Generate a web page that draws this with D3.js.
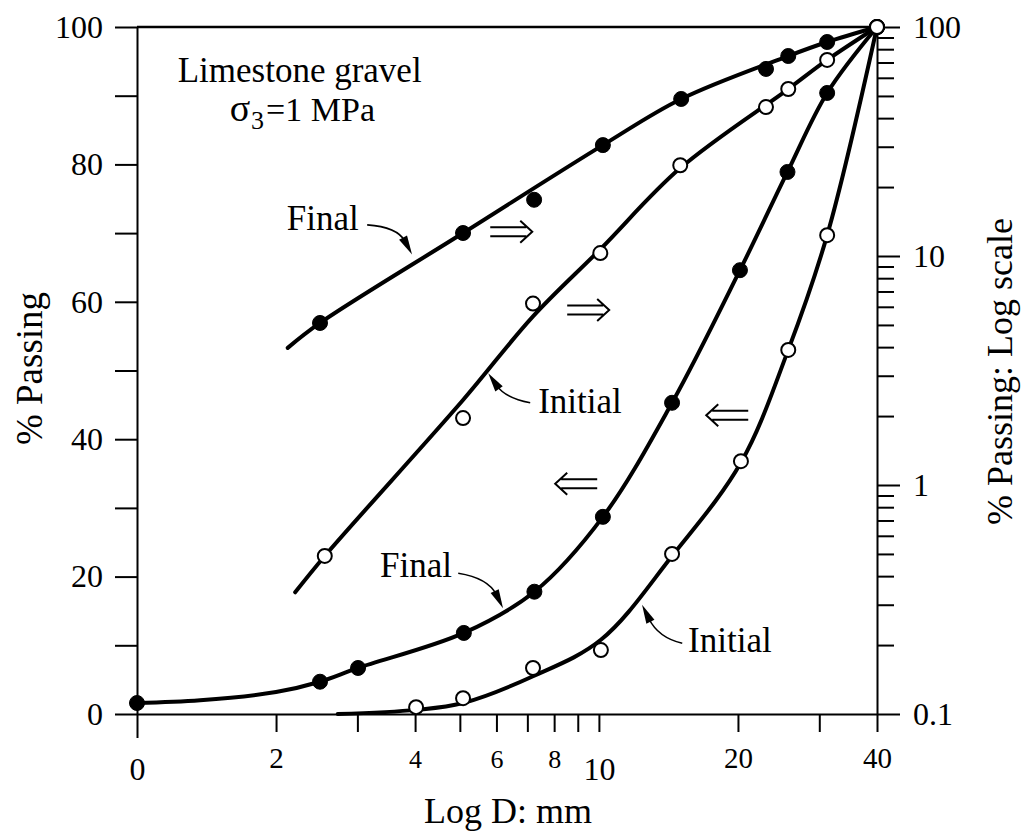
<!DOCTYPE html>
<html lang="en">
<head>
<meta charset="UTF-8">
<title>Limestone gravel - grading before and after shearing</title>
<script src="https://d3js.org/d3.v7.min.js"></script>
<style>
  body { margin: 0; background: #fff; }
  text { font-family: "Liberation Serif", "Times New Roman", serif; fill: #000; }
  .curve { fill: none; stroke: #000; stroke-width: 4; stroke-linecap: round; }
  .frame { stroke: #000; stroke-width: 2.5; fill: none; }
  .axis path, .axis line { stroke: #000; stroke-width: 2; }
  .leader { fill: none; stroke: #000; stroke-width: 1.6; }
  .dbl { fill: none; stroke: #000; stroke-width: 2; }
</style>
</head>
<body>
<div id="chart"></div>
<script>
// Grain size D (mm) and % passing.
// Upper pair is read against the right (log) axis, lower pair against the left (linear) axis.

// Initial grading, log scale (open circles)
const initLogD     = [2.55, 5.08, 7.2, 10.07, 15, 23, 25.7, 31.2, 40];
const initLogP     = [0.49, 1.96, 6.2, 10.3, 24.9, 44.7, 53.6, 71.8, 100];
const initLogLineD = [2.2, 2.55, 5.08, 7.2, 10.07, 15, 25.7, 31.2, 40];
const initLogLineP = [0.34, 0.49, 2.35, 5.45, 10.7, 24.2, 53.6, 71.8, 100];

// Final grading, log scale (filled circles)
const finLogD     = [2.49, 5.08, 7.24, 10.2, 15.07, 23, 25.7, 31.2, 40];
const finLogP     = [5.1, 12.6, 17.6, 30.5, 48.5, 65.6, 74.7, 86, 100];
const finLogLineD = [2.12, 2.49, 5.08, 10.2, 15.07, 25.7, 31.2, 40];
const finLogLineP = [3.97, 5.1, 12.6, 30.5, 48.5, 74.7, 86, 100];

// Final grading, linear scale (filled circles)
const finLinD     = [1, 2.49, 3.01, 5.1, 7.25, 10.2, 14.4, 20.2, 25.6, 31.2, 40];
const finLinP     = [1.6, 4.7, 6.7, 11.8, 17.8, 28.7, 45.3, 64.6, 78.9, 90.4, 100];
const finLinLineD = [1, 1.37, 2, 2.49, 3.01, 5.1, 7.25, 10.2, 14.4, 20.2, 25.6, 31.2, 40];
const finLinLineP = [1.6, 2.0, 3.2, 4.7, 6.7, 11.8, 17.8, 28.7, 45.3, 64.6, 78.9, 90.4, 100];

// Initial grading, linear scale (open circles)
const initLinD     = [4.02, 5.08, 7.2, 10.1, 14.4, 20.3, 25.7, 31.2, 40];
const initLinP     = [1.0, 2.3, 6.7, 9.3, 23.3, 36.8, 53, 69.7, 100];
const initLinLineD = [2.72, 4.02, 5.08, 7.2, 10.1, 14.4, 20.3, 25.7, 31.2, 40];
const initLinLineP = [0, 0.6, 1.6, 5.5, 10.8, 23.0, 36.6, 53, 69.7, 100];

// axis ticks
const xTickValues = [1, 2, 3, 4, 5, 6, 7, 8, 9, 10, 20, 30, 40];
const xTickLabels = ["0", "2", "", "4", "", "6", "", "8", "", "10", "20", "", "40"];
const leftTicks = [0, 10, 20, 30, 40, 50, 60, 70, 80, 90, 100];
const leftLabels = ["0", "", "20", "", "40", "", "60", "", "80", "", "100"];
const rightDecades = [0.1, 1, 10, 100];
const rightLabels = ["0.1", "1", "10", "100"];

const W = 1026, H = 836;
const plot = { left: 137, right: 877, top: 27, bottom: 714 };

const svg = d3.select("#chart").append("svg")
    .attr("width", W).attr("height", H);

const x = d3.scaleLog().domain([1, 40]).range([plot.left, plot.right]);
const yL = d3.scaleLinear().domain([0, 100]).range([plot.bottom, plot.top]);
const yR = d3.scaleLog().domain([0.1, 100]).range([plot.bottom, plot.top]);

// ---- axes ----
const leftAxis = svg.append("g").attr("class", "axis")
    .attr("transform", `translate(${plot.left},0)`)
    .call(d3.axisLeft(yL).tickValues(leftTicks).tickSize(22).tickSizeOuter(0).tickPadding(12)
        .tickFormat((d, i) => leftLabels[i]));
leftAxis.select(".domain").attr("stroke-width", 2.5);
leftAxis.selectAll("text").style("font-size", "32px").attr("font-family", null);

// right log axis, minor ticks 2..9 per decade
const rightTicks = [];
rightDecades.slice(0, 3).forEach(dec => {
    for (let k = 1; k < 10; k++) rightTicks.push(+(dec * k).toPrecision(3));
});
rightTicks.push(100);
const rightAxis = svg.append("g").attr("class", "axis")
    .attr("transform", `translate(${plot.right},0)`)
    .call(d3.axisRight(yR).tickValues(rightTicks).tickSize(17).tickSizeOuter(0).tickPadding(19)
        .tickFormat(d => {
            const i = rightDecades.indexOf(d);
            return i >= 0 ? rightLabels[i] : "";
        }));
rightAxis.select(".domain").attr("stroke-width", 2.5);
rightAxis.selectAll(".tick").filter(d => rightDecades.includes(d))
    .select("line").attr("x2", 23);
rightAxis.selectAll("text").style("font-size", "32px").attr("font-family", null);

const bottomAxis = svg.append("g").attr("class", "axis")
    .attr("transform", `translate(0,${plot.bottom})`)
    .call(d3.axisBottom(x).tickValues(xTickValues).tickSize(18).tickSizeOuter(0)
        .tickFormat((d, i) => xTickLabels[i]));
bottomAxis.select(".domain").attr("stroke-width", 2.5);
bottomAxis.selectAll(".tick").filter(d => d === 1).select("line").attr("y2", 24);
bottomAxis.selectAll("text").attr("font-family", null).attr("dy", null)
    .each(function() {
        const t = d3.select(this), s = t.text();
        if (s === "0" || s === "10") t.attr("y", 66).style("font-size", "32px");
        else if (s === "4" || s === "6" || s === "8") t.attr("y", 54).style("font-size", "26px");
        else t.attr("y", 54).style("font-size", "29px");
    });

// top border
svg.append("line").attr("class", "frame")
    .attr("x1", plot.left).attr("x2", plot.right)
    .attr("y1", plot.top).attr("y2", plot.top);

// axis titles
svg.append("text")
    .attr("transform", `translate(42,${(plot.top + plot.bottom) / 2 - 2}) rotate(-90)`)
    .attr("text-anchor", "middle").style("font-size", "37px")
    .text("% Passing");
svg.append("text")
    .attr("x", (plot.left + plot.right) / 2 + 1).attr("y", 823)
    .attr("text-anchor", "middle").style("font-size", "36px")
    .text("Log D: mm");
svg.append("text")
    .attr("transform", `translate(1012,${(plot.top + plot.bottom) / 2 + 1}) rotate(-90)`)
    .attr("text-anchor", "middle").style("font-size", "36px")
    .text("% Passing: Log scale");

// ---- curves ----
const zip = (ds, ps) => ds.map((d, i) => ({ d: d, p: ps[i] }));
const smooth = d3.curveCatmullRom.alpha(0.5);
const lineLin = d3.line().x(v => x(v.d)).y(v => yL(v.p)).curve(smooth);
const lineLog = d3.line().x(v => x(v.d)).y(v => yR(v.p)).curve(smooth);

const series = [
    { line: zip(initLogLineD, initLogLineP), pts: zip(initLogD, initLogP), gen: lineLog, y: yR, filled: false },
    { line: zip(finLogLineD, finLogLineP), pts: zip(finLogD, finLogP), gen: lineLog, y: yR, filled: true },
    { line: zip(finLinLineD, finLinLineP), pts: zip(finLinD, finLinP), gen: lineLin, y: yL, filled: true },
    { line: zip(initLinLineD, initLinLineP), pts: zip(initLinD, initLinP), gen: lineLin, y: yL, filled: false }
];

series.forEach(s => {
    svg.append("path").attr("class", "curve").attr("d", s.gen(s.line));
});
series.forEach(s => {
    svg.append("g").selectAll("circle")
        .data(s.pts)
        .join("circle")
        .attr("cx", v => x(v.d))
        .attr("cy", v => s.y(v.p))
        .attr("r", s.filled ? 7.5 : 7)
        .attr("fill", s.filled ? "#000" : "#fff")
        .attr("stroke", "#000")
        .attr("stroke-width", s.filled ? 1 : 2);
});

// ---- annotations (placed in D / left-axis % units) ----
const P = (d, p) => [x(d), yL(p)];

svg.append("text").attr("text-anchor", "middle").style("font-size", "35px")
    .attr("x", P(2.25, 92)[0]).attr("y", P(2.25, 92)[1])
    .text("Limestone gravel");
const sig = svg.append("text").attr("text-anchor", "middle").style("font-size", "34px")
    .attr("x", P(2.28, 86.3)[0]).attr("y", P(2.28, 86.3)[1]);
sig.append("tspan").style("font-size", "38px").text("σ");
sig.append("tspan").attr("dx", 1).attr("dy", 8).style("font-size", "26px").text("3");
sig.append("tspan").attr("dx", 2).attr("dy", -8).text("=1 MPa");

function label(txt, d, p) {
    const [lx, ly] = P(d, p);
    svg.append("text").attr("x", lx).attr("y", ly).style("font-size", "35px").text(txt);
}
function leader(a, c, b) {
    const [x0, y0] = P(a[0], a[1]), [cx, cy] = P(c[0], c[1]), [x1, y1] = P(b[0], b[1]);
    const ang = Math.atan2(y1 - cy, x1 - cx), len = 19, hw = 4.5;
    const bx = x1 - len * Math.cos(ang), by = y1 - len * Math.sin(ang);
    svg.append("path").attr("class", "leader")
        .attr("d", `M${x0},${y0}Q${cx},${cy} ${bx + 4 * Math.cos(ang)},${by + 4 * Math.sin(ang)}`);
    const nx = -Math.sin(ang) * hw, ny = Math.cos(ang) * hw;
    svg.append("path").attr("fill", "#000")
        .attr("d", `M${x1},${y1}L${bx + nx},${by + ny}L${bx - nx},${by - ny}Z`);
}
function dblArrow(d, p, dir) {
    const [cx, cy] = P(d, p);
    const s = dir, w = 21;
    svg.append("path").attr("class", "dbl")
        .attr("d", `M${cx - s * w},${cy - 4.5}H${cx + s * (w - 6)}` +
                   `M${cx - s * w},${cy + 4.5}H${cx + s * (w - 6)}` +
                   `M${cx + s * (w - 12)},${cy - 11}L${cx + s * w},${cy}L${cx + s * (w - 12)},${cy + 11}`);
}

label("Final", 2.11, 70.5);
leader([3.15, 71.2], [3.66, 70.9], [3.94, 66.9]);
label("Initial", 7.39, 43.8);
leader([7.10, 45.3], [6.27, 46.0], [5.76, 49.6]);
label("Final", 3.36, 19.9);
leader([4.96, 20.5], [5.76, 19.8], [6.20, 15.4]);
label("Initial", 15.6, 9.0);
leader([15.15, 10.3], [13.44, 11.1], [12.4, 15.9]);

dblArrow(6.46, 70.2, 1);
dblArrow(9.48, 58.8, 1);
dblArrow(8.93, 33.5, -1);
dblArrow(18.96, 43.5, -1);
</script>
</body>
</html>
